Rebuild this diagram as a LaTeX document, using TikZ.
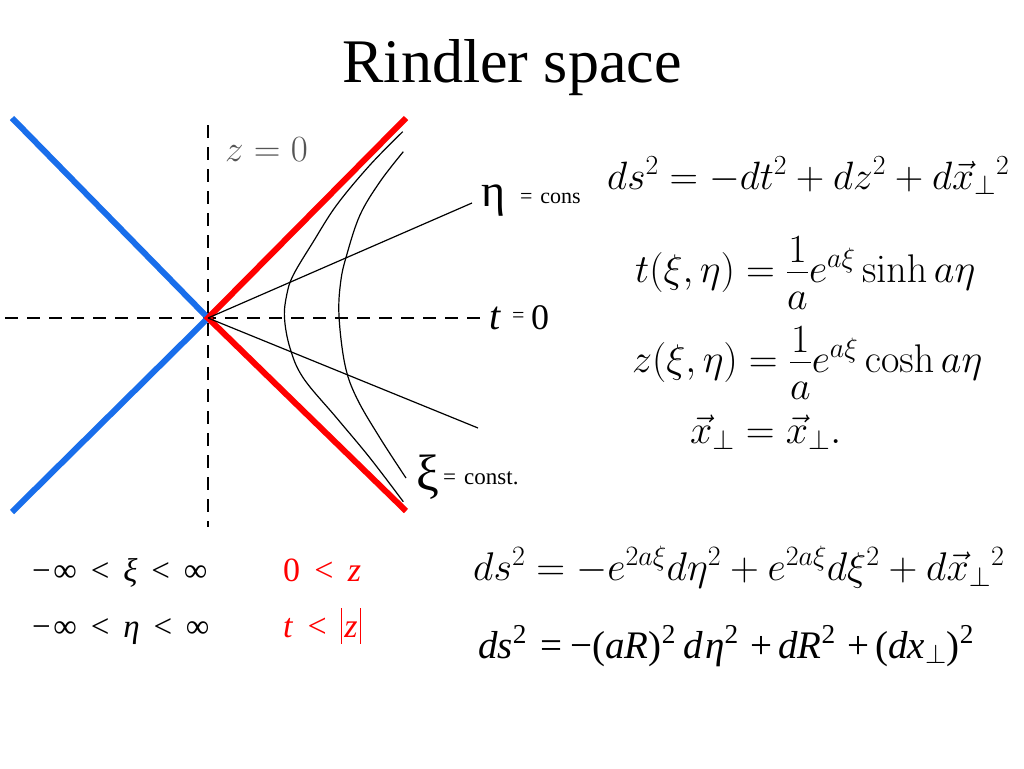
\RequirePackage{fix-cm}
\documentclass[tikz,border=0pt]{standalone}
\usepackage{amsmath}
\usepackage[no-math]{fontspec}
\setmainfont{Liberation Serif}
\definecolor{rblue}{RGB}{25,110,235}
\definecolor{zgray}{RGB}{85,85,85}
\newcommand{\gap}{\hspace{0.42em}}
\newcommand{\lownum}[1]{\smash{\raisebox{-0.2em}{$#1$}}}
\begin{document}
\begin{tikzpicture}[x=1pt,y=-1pt,
  cone/.style={line width=6pt},
  axisline/.style={line width=1.3pt,dash pattern=on 13pt off 9pt},
  thin/.style={line width=1.2pt},
  lbl/.style={inner sep=0pt,anchor=base west},
  eqfont/.style={font=\fontsize{40}{46}\selectfont}]
\useasboundingbox (0,0) rectangle (1024,768);
% title
\node[inner sep=0pt,anchor=base] (title) at (512,82) {\fontsize{62}{70}\selectfont Rindler space};
% axes
\coordinate (O) at (208,318);
\coordinate (zt) at (208,125);
\coordinate (zb) at (208,527);
\coordinate (tl) at (5,318);
\coordinate (tr) at (485,318);
\draw[axisline] (zt) -- (zb);
\draw[axisline] (tl) -- (tr);
% light cone
\coordinate (bl1) at (12,118);
\coordinate (bl2) at (12,512);
\coordinate (rd1) at (406,118);
\coordinate (rd2) at (406,511);
\draw[cone,rblue] (bl1) -- (O) -- (bl2);
\draw[cone,red] (rd1) -- (O) -- (rd2);
% eta = const lines
\coordinate (e1) at (472,203);
\coordinate (e2) at (478,428);
\draw[thin] (O) -- (e1);
\draw[thin] (O) -- (e2);
% xi = const hyperbolae
\draw[thin] plot[smooth,tension=0.6] coordinates {(402.7,131.7) (370,165) (336.7,205) (313.3,241.7) (293.3,275) (286.7,295) (284.5,318) (290,348) (303.3,378) (336.7,418) (370,458) (403.3,501.7)};
\draw[thin] plot[smooth,tension=0.6] coordinates {(403.3,151.7) (380,181.7) (360,215) (346.7,255) (340.7,281.7) (339,316) (345,365) (356.7,398) (380,438) (406,478)};
% labels in diagram
\node[lbl,text=zgray] (z0) at (225,161) {\fontsize{37}{40}\selectfont $z=0$};
\node[lbl] (eta) at (481,206) {\fontsize{46}{50}\selectfont η};
\node[lbl] (etac) at (520,203) {\fontsize{22}{24}\selectfont =\hspace{0.35em}cons};
\node[lbl] (xi) at (416,490) {\fontsize{51}{54}\selectfont ξ};
\node[lbl] (xic) at (443,484) {\fontsize{23}{26}\selectfont =\hspace{0.35em}const.};
\node[lbl] (t0t) at (489,329) {\fontsize{40}{44}\selectfont\itshape t};
\node[lbl] (t0e) at (512,322) {\fontsize{22}{24}\selectfont =};
\node[lbl] (t0z) at (531,329) {\fontsize{36}{40}\selectfont 0};
% right equations
\node[lbl] (eq1) at (607,189) {\fontsize{39.5}{46}\selectfont $ds^2=-dt^2+dz^2+d\vec{x}_\perp{}^2$};
\node[lbl,eqfont] (eq2) at (635,282) {$t(\xi,\eta)=\dfrac{\lownum{1}}{a}e^{a\xi}\sinh a\eta$};
\node[lbl,eqfont] (eq3) at (632,372) {$z(\xi,\eta)=\dfrac{\lownum{1}}{a}e^{a\xi}\cosh a\eta$};
\node[lbl,eqfont] (eq4) at (690,443) {$\vec{x}_\perp=\vec{x}_\perp.$};
% ranges
\node[lbl] (r1) at (32,581) {\fontsize{33}{36}\selectfont −\hspace{0.08em}∞\gap<\gap\textit{ξ}\gap<\gap∞};
\node[lbl] (r2) at (32,637) {\fontsize{33}{36}\selectfont −\hspace{0.08em}∞\gap<\gap\textit{η}\gap<\gap∞};
\node[lbl,text=red] (c1) at (283,581) {\fontsize{34}{36}\selectfont 0\gap<\gap\textit{z}};
\node[lbl,text=red] (c2) at (283,637) {\fontsize{34}{36}\selectfont \textit{t}\gap<\gap\rule[-0.2em]{0.7pt}{1.05em}\hspace{0.08em}\textit{z}\hspace{0.08em}\rule[-0.2em]{0.7pt}{1.05em}};
% bottom equations
\node[lbl,eqfont] (eq5) at (473,580) {$ds^2=-e^{2a\xi}d\eta^2+e^{2a\xi}d\xi^2+d\vec{x}_\perp{}^2$};
\node[lbl] (eq6) at (478,658) {\fontsize{39}{42}\selectfont \textit{ds}\textsuperscript{2}\hspace{0.35em}=\hspace{0.2em}−(\textit{aR})\textsuperscript{2}\hspace{0.2em}\textit{d}\hspace{0.05em}\textit{η}\textsuperscript{2}\hspace{0.3em}+\hspace{0.15em}\textit{dR}\textsuperscript{2}\hspace{0.3em}+\hspace{0.15em}(\textit{dx}\textsubscript{$\perp$})\textsuperscript{2}};
\end{tikzpicture}
\end{document}
